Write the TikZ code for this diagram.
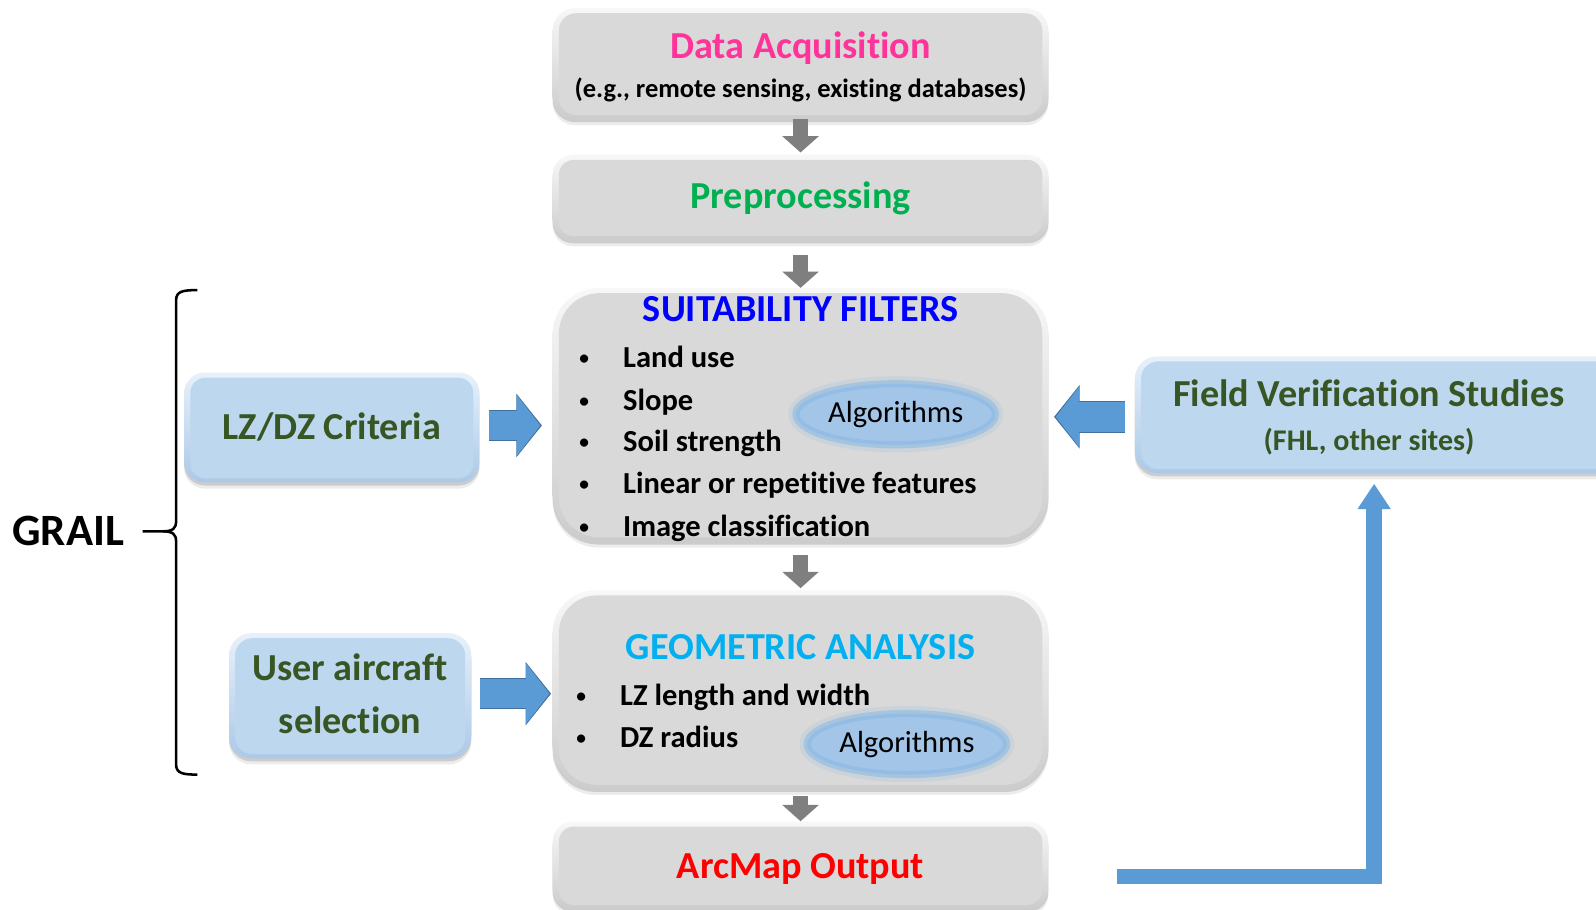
\documentclass[tikz,border=0pt]{standalone}
\usepackage{fontspec}
\setmainfont{Carlito}[Ligatures=CommonOff]
\usetikzlibrary{shapes.geometric,arrows.meta,shadows,calc}
\definecolor{pinkc}{HTML}{FF3399}
\definecolor{greenc}{HTML}{00B050}
\definecolor{bluec}{HTML}{0000FF}
\definecolor{cyanc}{HTML}{00B0F0}
\definecolor{redc}{HTML}{FF0000}
\definecolor{dgreen}{HTML}{375623}
\definecolor{gtop}{HTML}{F8F8F8}
\definecolor{gbot}{HTML}{CCCCCC}
\definecolor{gface}{HTML}{D9D9D9}
\definecolor{btop}{HTML}{E8F1FA}
\definecolor{bbot}{HTML}{ABC9E8}
\definecolor{bface}{HTML}{BDD7EE}
\definecolor{garrowc}{HTML}{7F7F7F}
\definecolor{barrowc}{HTML}{5B9BD5}
\definecolor{bedge}{HTML}{41719C}
\definecolor{algfill}{HTML}{A2C5E8}
\definecolor{algedge}{HTML}{8AB8E3}
\newcommand\ttlfont{\fontsize{37.5}{44}\selectfont\bfseries}
\newcommand\subfont{\fontsize{26}{31}\selectfont\bfseries}
\newcommand\fvsubfont{\fontsize{29.5}{35}\selectfont\bfseries}
\newcommand\itmfont{\fontsize{30}{36}\selectfont\bfseries}
\newcommand\algfont{\fontsize{30}{36}\selectfont}
\newcommand\grailfont{\fontsize{44}{52}\selectfont\bfseries}
\newcommand\mybul{\makebox[43pt][l]{\raisebox{3pt}{\fontsize{19}{19}\selectfont •}}}
\tikzset{
  bevel/.style n args={5}{rounded corners=#1, inner sep=0pt, draw=none,
    top color=#2, bottom color=#3,
    drop shadow={shadow xshift=0pt, shadow yshift=-3pt, opacity=0.2, fill=black!70},
    drop shadow={shadow xshift=0pt, shadow yshift=-6pt, opacity=0.1, fill=black!70},
    path picture={\fill[#4, rounded corners=#5]
      ([shift={(6pt,-5pt)}]path picture bounding box.north west) rectangle
      ([shift={(-6pt,4pt)}]path picture bounding box.south east);}},
  gbox/.style 2 args={bevel={#1}{gtop}{gbot}{gface}{#2}},
  bbox/.style 2 args={bevel={#1}{btop}{bbot}{bface}{#2}},
  t/.style={inner sep=0pt, anchor=base},
  tl/.style={inner sep=0pt, anchor=base west},
  garrow/.style={draw=garrowc, line width=15pt, -{Triangle[width=35pt,length=16pt]}},
  barrow/.style={draw=barrowc, line width=29pt, -{Triangle[width=58pt,length=23pt]},
    preaction={draw=bedge, line width=31pt, shorten >=-1.6pt, -{Triangle[width=61pt,length=25pt]}}},
  fbarrow/.style={draw=barrowc, line width=15pt, line join=miter, -{Triangle[width=31pt,length=25pt]}},
  alg/.style={ellipse, inner sep=0pt, fill=algfill, draw=algedge, line width=7pt, draw opacity=0.55,
    preaction={draw=algedge, line width=15pt, draw opacity=0.18}, font=\algfont},
  brace/.style={draw=black, line width=2.5pt}
}
\begin{document}
\begin{tikzpicture}[x=1pt,y=-1pt]
\useasboundingbox (0,0) rectangle (1568,894);
\fill[white] (0,0) rectangle (1568,894);

% gray boxes
\node[gbox={22pt}{17pt}, minimum width=487pt, minimum height=109pt] (da) at (786.5,62.5) {};
\node[gbox={20pt}{15pt}, minimum width=487pt, minimum height=84pt] (pp) at (786.5,194) {};
\node[gbox={45pt}{40pt}, minimum width=487pt, minimum height=249pt] (sf) at (786.5,407.5) {};
\node[gbox={42pt}{37pt}, minimum width=487pt, minimum height=195pt] (ga) at (786.5,677.5) {};
\node[gbox={20pt}{15pt}, minimum width=487pt, minimum height=86pt] (ao) at (786.5,850) {};

% blue boxes
\node[bbox={20pt}{15pt}, minimum width=290pt, minimum height=108pt] (lz) at (326,420) {};
\node[bbox={22pt}{17pt}, minimum width=238pt, minimum height=123pt] (ua) at (344,683.5) {};
\node[bbox={22pt}{17pt}, minimum width=490pt, minimum height=115pt] (fv) at (1360,407.5) {};

% texts
\node[t, font=\ttlfont, text=pinkc] (dat) at (786.5,57) {Data Acquisition};
\node[t, font=\subfont] (das) at (786.5,96) {(e.g., remote sensing, existing databases)};
\node[t, font=\ttlfont, text=greenc] (ppt) at (786.5,205) {Preprocessing};
\node[t, font=\ttlfont, text=bluec] (sft) at (786.5,316) {SUITABILITY FILTERS};
\node[tl, font=\itmfont] (sf1) at (569,361) {\mybul Land use};
\node[tl, font=\itmfont] (sf2) at (569,403) {\mybul Slope};
\node[tl, font=\itmfont] (sf3) at (569,444) {\mybul Soil strength};
\node[tl, font=\itmfont] (sf4) at (569,485) {\mybul Linear or repetitive features};
\node[tl, font=\itmfont] (sf5) at (569,527) {\mybul Image classification};
\node[alg, minimum width=196pt, minimum height=60pt] (alg1) at (880,407) {Algorithms};

\node[t, font=\ttlfont, text=cyanc] (gat) at (786.5,648) {GEOMETRIC ANALYSIS};
\node[tl, font=\itmfont] (ga1) at (566,693) {\mybul LZ length and width};
\node[tl, font=\itmfont] (ga2) at (566,734) {\mybul DZ radius};
\node[alg, minimum width=196pt, minimum height=60pt] (alg2) at (891,731) {Algorithms};

\node[t, font=\ttlfont, text=redc] (aot) at (786.5,863) {ArcMap Output};

\node[t, font=\ttlfont, text=dgreen] (lzt) at (326,432) {LZ/DZ Criteria};
\node[t, font=\ttlfont, text=dgreen] (ua1) at (344,669) {User aircraft};
\node[t, font=\ttlfont, text=dgreen] (ua2) at (344,721) {selection};
\node[t, font=\ttlfont, text=dgreen] (fvt) at (1345,399) {Field Verification Studies};
\node[t, font=\fvsubfont, text=dgreen] (fvs) at (1345,443) {(FHL, other sites)};

\node[t, font=\grailfont] (grail) at (67,536) {GRAIL};

% gray flow arrows
\draw[garrow] (da.south) -- ([yshift=2pt]pp.north);
\draw[garrow] ([yshift=-14pt]pp.south) -- (sf.north);
\draw[garrow] ([yshift=-13pt]sf.south) -- ([yshift=2pt]ga.north);
\draw[garrow] ([yshift=-7pt]ga.south) -- (ao.north);

% blue block arrows
\draw[barrow] ([xshift=9pt,yshift=2pt]lz.east) -- ([xshift=-12pt,yshift=2pt]lz.east -| sf.west);
\draw[barrow] ([xshift=8pt,yshift=2pt]ua.east) -- ([xshift=-3pt,yshift=2pt]ua.east -| ga.west);
\draw[barrow] ([xshift=-10pt,yshift=-2pt]fv.west) -- ([xshift=7pt,yshift=-2pt]fv.west -| sf.east);

% feedback arrow
\coordinate (fbstart) at (1097,861);
\draw[fbarrow] (fbstart) -| ([xshift=-10pt,yshift=-10pt]fv.south);

% GRAIL brace
\coordinate (btop) at (194,285);
\coordinate (bbot) at (194,761);
\coordinate (bmid) at (140,522);
\draw[brace] (btop) .. controls (180,285) and (173,286) .. (173,295) -- (173,512)
  .. controls (173,519) and (170,522) .. (160,522) -- (bmid);
\draw[brace] (160,522) .. controls (170,522) and (173,525) .. (173,532) -- (173,751)
  .. controls (173,760) and (180,761) .. (bbot);
\end{tikzpicture}
\end{document}
